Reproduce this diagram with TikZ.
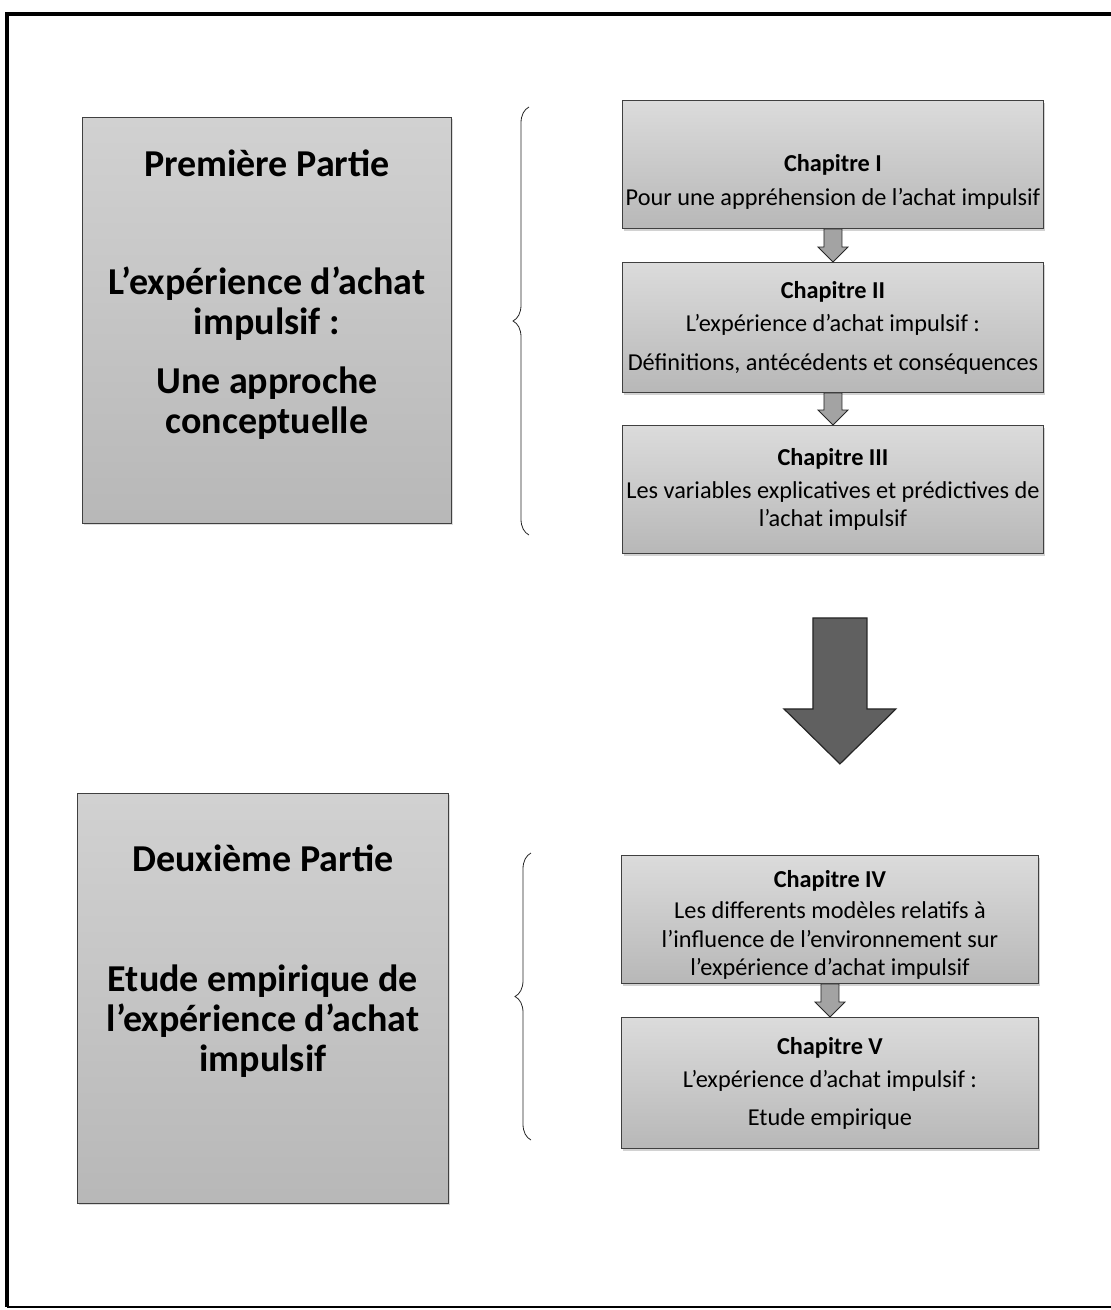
\documentclass[tikz,border=0pt]{standalone}
\usepackage{fontspec}
\setmainfont{Carlito}
\usetikzlibrary{calc,decorations.pathreplacing,shadows}

% block arrow pointing down: #2 top point, #3 tip point, #4 half shaft, #5 half head, #6 head length
\newcommand{\downblock}[6][]{%
  \draw[blockarrow,#1] let \p1=(#2), \p2=(#3) in
    (\x1-#4,\y1) -- (\x1+#4,\y1) -- (\x1+#4,\y2+#6) -- (\x1+#5,\y2+#6)
    -- (\x1,\y2) -- (\x1-#5,\y2+#6) -- (\x1-#4,\y2+#6) -- cycle;}

\begin{document}
\begin{tikzpicture}[x=1pt,y=-1pt,
  partbox/.style={draw=black!75, line width=0.9pt,
    top color=gray!36, bottom color=gray!56,
    drop shadow={shadow xshift=2pt, shadow yshift=-2pt, fill=gray!55},
    minimum width=#1, inner sep=0pt},
  parttext/.style={align=center, inner sep=0pt,
    font=\bfseries\fontsize{38}{40}\selectfont},
  chapbox/.style={draw=black!75, line width=0.9pt,
    top color=gray!28, bottom color=gray!56,
    drop shadow={shadow xshift=2pt, shadow yshift=-3pt, fill=gray!70},
    align=center, inner sep=0pt,
    font=\fontsize{24.3}{28.5}\selectfont},
  blockarrow/.style={draw=black!85, line width=0.8pt, fill=gray!72},
  bracestyle/.style={draw=black!85, line width=0.8pt,
    decorate, decoration={brace, amplitude=16pt, aspect=0.5}},
]
\useasboundingbox (0,0) rectangle (1111,1310);

% page frame
\draw[line width=3.8pt] (1111,14) -- (7,14) -- (7,1307);
\draw[line width=1.8pt] (7,1307) -- (1111,1307);

% ---- first part ----
\node[partbox=369pt, minimum height=406pt, anchor=north west] (p1) at (82,117) {};
\node[parttext, anchor=north] (p1t) at ($(p1.north)+(0,33)$)
  {Première Partie\\[78pt]L'expérience d'achat\\impulsif :\\[19pt]Une approche\\conceptuelle};

\node[chapbox, minimum width=421pt, minimum height=128pt, anchor=north west] (c1) at (622,100)
  {\rule{0pt}{52pt}\textbf{Chapitre I}\\[5pt]Pour une appréhension de l'achat impulsif};
\node[chapbox, minimum width=421pt, minimum height=130pt, anchor=north west] (c2) at (622,262)
  {\textbf{Chapitre II}\\[5pt]L'expérience d'achat impulsif :\\[10pt]Définitions, antécédents et conséquences};
\node[chapbox, minimum width=421pt, minimum height=128pt, anchor=north west] (c3) at (622,425)
  {\textbf{Chapitre III}\\[4pt]Les variables explicatives et prédictives de\\l'achat impulsif};

\downblock{c1.south}{c2.north}{9pt}{15pt}{15pt}
\downblock{c2.south}{c3.north}{9pt}{15pt}{15pt}

\coordinate (b1t) at (529,107);
\coordinate (b1b) at (529,535);
\draw[bracestyle] (b1b) -- (b1t);

% ---- link between the two parts ----
\coordinate (bigtop) at ($(c3.south)+(7,64)$);
\coordinate (bigtip) at ($(c3.south)+(7,210)$);
\downblock[line width=1.2pt, fill=gray!75!black]{bigtop}{bigtip}{27pt}{56pt}{55pt}

% ---- second part ----
\node[partbox=371pt, minimum height=410pt, anchor=north west] (p2) at (77,793) {};
\node[parttext, anchor=north] (p2t) at ($(p2.north)+(0,52)$)
  {Deuxième Partie\\[80pt]Etude empirique de\\l'expérience d'achat\\impulsif};

\node[chapbox, minimum width=417pt, minimum height=128pt, anchor=north west] (c4) at (621,855)
  {\rule{0pt}{28pt}\textbf{Chapitre IV}\\[3pt]Les differents modèles relatifs à\\l'influence de l'environnement sur\\l'expérience d'achat impulsif};
\node[chapbox, minimum width=417pt, minimum height=131pt, anchor=north west] (c5) at (621,1017)
  {\textbf{Chapitre V}\\[5pt]L'expérience d'achat impulsif :\\[9pt]Etude empirique};

\downblock{c4.south}{c5.north}{9pt}{15pt}{15pt}

\coordinate (b2t) at (531,853);
\coordinate (b2b) at (531,1140);
\draw[bracestyle] (b2b) -- (b2t);
\end{tikzpicture}
\end{document}
